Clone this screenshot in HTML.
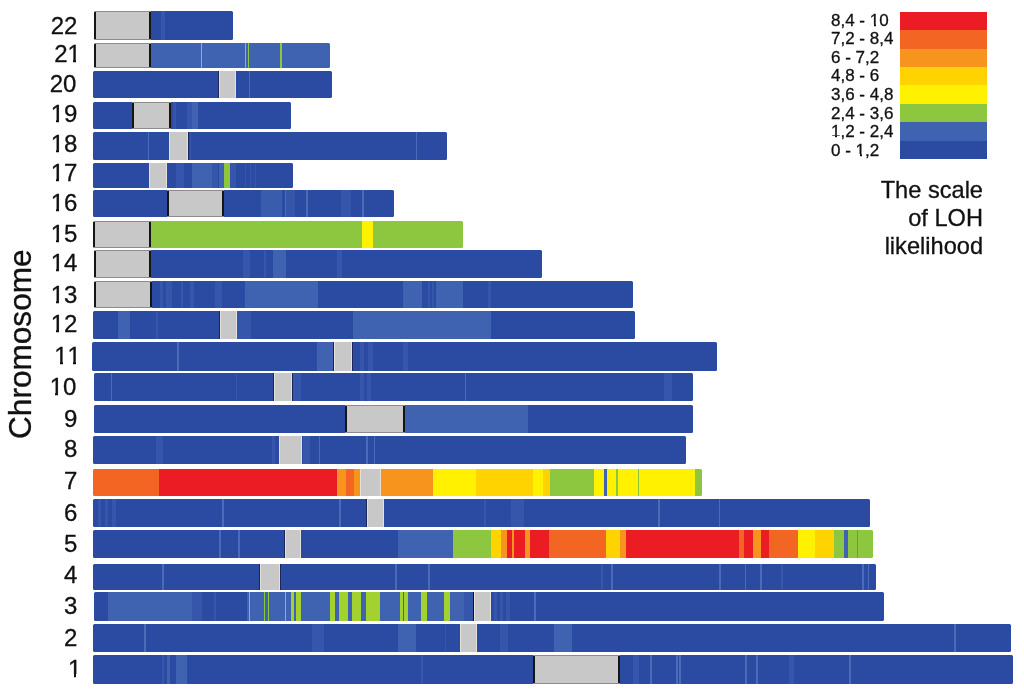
<!DOCTYPE html>
<html><head><meta charset="utf-8"><style>
html,body{margin:0;padding:0;background:#fff;}
body{width:1024px;height:695px;position:relative;overflow:hidden;font-family:"Liberation Sans",sans-serif;color:#111;-webkit-text-stroke:0.3px #111;}
.bar{position:absolute;background:#2b4aa2;border-radius:1.5px;overflow:hidden;}
.bar i{position:absolute;top:0;bottom:0;display:block;box-sizing:border-box;}
.lab{position:absolute;left:20px;width:57.4px;text-align:right;font-size:24px;line-height:1;}
.lt{position:absolute;left:831px;font-size:17px;line-height:1;white-space:nowrap;}
.ttl{position:absolute;right:41px;font-size:23.6px;line-height:1;text-align:right;white-space:nowrap;}
.ylab{position:absolute;left:0;top:0;font-size:31.6px;line-height:1;white-space:nowrap;transform-origin:0 0;}
.one{position:relative;}
.one::before,.one::after{content:'';position:absolute;bottom:0.14em;height:0.175em;background:#fff;}
.one::before{left:0.05em;width:0.19em;}
.one::after{left:0.35em;width:0.19em;}
#w{position:absolute;left:0;top:0;width:1024px;height:695px;filter:blur(0.5px);}
</style></head><body><div id="w">
<div class="bar" style="top:11px;left:94px;width:139px;height:29px;background:linear-gradient(90deg,#c8c8c8 0px 57px,#2b4aa2 57px 67px,#3556aa 67px 71px,#2b4aa2 71px 139px)"><i style="left:0px;width:57px;background:#c8c8c8;border-top:1px solid #8c8c8c;border-bottom:1px solid #8c8c8c;box-shadow:inset 2px 0 0 #151515,inset -2px 0 0 #151515;"></i></div>
<div class="bar" style="top:43px;left:94px;width:236px;height:25px;background:linear-gradient(90deg,#c8c8c8 0px 57px,#3f63b0 57px 107px,#8dc63f 107px 108px,#3f63b0 108px 151px,#8dc63f 151px 152px,#3f63b0 152px 154px,#8dc63f 154px 155px,#3f63b0 155px 186px,#8dc63f 186px 188px,#3f63b0 188px 236px)"><i style="left:0px;width:57px;background:#c8c8c8;border-top:1px solid #8c8c8c;border-bottom:1px solid #8c8c8c;box-shadow:inset 2px 0 0 #151515,inset -2px 0 0 #151515;"></i></div>
<div class="bar" style="top:71px;left:93px;width:239px;height:27px;background:linear-gradient(90deg,#2b4aa2 0px 126px,#c8c8c8 126px 143px,#2b4aa2 143px 156px,#4a6cb8 156px 157px,#2b4aa2 157px 239px)"><i style="left:126px;width:17px;background:#c8c8c8;box-shadow:inset 1px 0 0 #e4e2d8,inset -1px 0 0 #e4e2d8,-1px 0 0 #1c2458;"></i></div>
<div class="bar" style="top:102px;left:93px;width:198px;height:27px;background:linear-gradient(90deg,#2b4aa2 0px 39px,#c8c8c8 39px 78px,#2b4aa2 78px 80px,#3556aa 80px 83px,#2b4aa2 83px 94px,#3556aa 94px 99px,#3f63b0 99px 105px,#2b4aa2 105px 198px)"><i style="left:39px;width:39px;background:#c8c8c8;border-top:1px solid #8c8c8c;border-bottom:1px solid #8c8c8c;box-shadow:inset 2px 0 0 #151515,inset -2px 0 0 #151515;"></i></div>
<div class="bar" style="top:132px;left:93px;width:354px;height:28px;background:linear-gradient(90deg,#2b4aa2 0px 55px,#4a6cb8 55px 56px,#2b4aa2 56px 76px,#c8c8c8 76px 95px,#2b4aa2 95px 97px,#3556aa 97px 98px,#2b4aa2 98px 323px,#4a6cb8 323px 324px,#2b4aa2 324px 354px)"><i style="left:76px;width:19px;background:#c8c8c8;box-shadow:inset 1px 0 0 #e4e2d8,inset -1px 0 0 #e4e2d8,1px 0 0 #1c2458;"></i></div>
<div class="bar" style="top:163px;left:93px;width:200px;height:25px;background:linear-gradient(90deg,#2b4aa2 0px 56px,#c8c8c8 56px 74px,#2b4aa2 74px 83px,#3556aa 83px 91px,#2b4aa2 91px 99px,#3f63b0 99px 119px,#3556aa 119px 125px,#2b4aa2 125px 126px,#3f63b0 126px 131px,#8dc63f 131px 137px,#3556aa 137px 143px,#2b4aa2 143px 152px,#3556aa 152px 153px,#2b4aa2 153px 157px,#3556aa 157px 158px,#2b4aa2 158px 162px,#3556aa 162px 163px,#2b4aa2 163px 200px)"><i style="left:56px;width:18px;background:#c8c8c8;box-shadow:inset 1px 0 0 #e4e2d8,inset -1px 0 0 #e4e2d8;"></i></div>
<div class="bar" style="top:190px;left:93px;width:301px;height:27px;background:linear-gradient(90deg,#2b4aa2 0px 74px,#c8c8c8 74px 131px,#2b4aa2 131px 168px,#3a5cad 168px 189px,#2b4aa2 189px 192px,#4a6cb8 192px 193px,#3556aa 193px 202px,#2b4aa2 202px 213px,#4a6cb8 213px 215px,#2b4aa2 215px 248px,#3556aa 248px 258px,#2b4aa2 258px 269px,#4a6cb8 269px 271px,#2b4aa2 271px 301px)"><i style="left:74px;width:57px;background:#c8c8c8;border-top:1px solid #8c8c8c;border-bottom:1px solid #8c8c8c;box-shadow:inset 2px 0 0 #151515,inset -2px 0 0 #151515;"></i></div>
<div class="bar" style="top:221px;left:93px;width:370px;height:27px;background:linear-gradient(90deg,#c8c8c8 0px 58px,#8dc63f 58px 269px,#fff100 269px 280px,#8dc63f 280px 370px)"><i style="left:0px;width:58px;background:#c8c8c8;border-top:1px solid #8c8c8c;border-bottom:1px solid #8c8c8c;box-shadow:inset 2px 0 0 #151515,inset -2px 0 0 #151515;"></i></div>
<div class="bar" style="top:250px;left:94px;width:448px;height:28px;background:linear-gradient(90deg,#c8c8c8 0px 57px,#2b4aa2 57px 149px,#3556aa 149px 156px,#2b4aa2 156px 170px,#3556aa 170px 172px,#2b4aa2 172px 179px,#3f63b0 179px 192px,#2b4aa2 192px 243px,#3556aa 243px 248px,#2b4aa2 248px 448px)"><i style="left:0px;width:57px;background:#c8c8c8;border-top:1px solid #8c8c8c;border-bottom:1px solid #8c8c8c;box-shadow:inset 2px 0 0 #151515,inset -2px 0 0 #151515;"></i></div>
<div class="bar" style="top:281px;left:94px;width:539px;height:27px;background:linear-gradient(90deg,#c8c8c8 0px 58px,#2b4aa2 58px 66px,#3556aa 66px 69px,#2b4aa2 69px 72px,#3556aa 72px 78px,#2b4aa2 78px 87px,#3556aa 87px 89px,#2b4aa2 89px 96px,#3556aa 96px 100px,#2b4aa2 100px 121px,#3556aa 121px 128px,#2b4aa2 128px 151px,#3f63b0 151px 224px,#2b4aa2 224px 309px,#3f63b0 309px 328px,#2b4aa2 328px 334px,#3556aa 334px 336px,#2b4aa2 336px 338px,#3556aa 338px 340px,#2b4aa2 340px 342px,#3f63b0 342px 369px,#2b4aa2 369px 394px,#3556aa 394px 397px,#2b4aa2 397px 539px)"><i style="left:0px;width:58px;background:#c8c8c8;border-top:1px solid #8c8c8c;border-bottom:1px solid #8c8c8c;box-shadow:inset 2px 0 0 #151515,inset -2px 0 0 #151515;"></i></div>
<div class="bar" style="top:311px;left:93px;width:542px;height:28px;background:linear-gradient(90deg,#2b4aa2 0px 25px,#3f63b0 25px 37px,#2b4aa2 37px 63px,#3556aa 63px 65px,#2b4aa2 65px 127px,#c8c8c8 127px 144px,#3556aa 144px 158px,#2b4aa2 158px 260px,#3f63b0 260px 398px,#2b4aa2 398px 542px)"><i style="left:127px;width:17px;background:#c8c8c8;box-shadow:inset 1px 0 0 #e4e2d8,inset -1px 0 0 #e4e2d8,-1px 0 0 #1c2458;"></i></div>
<div class="bar" style="top:342px;left:92px;width:625px;height:29px;background:linear-gradient(90deg,#2b4aa2 0px 85px,#4a6cb8 85px 87px,#2b4aa2 87px 225px,#3f63b0 225px 242px,#c8c8c8 242px 260px,#2b4aa2 260px 268px,#3556aa 268px 272px,#2b4aa2 272px 276px,#3556aa 276px 281px,#2b4aa2 281px 311px,#3556aa 311px 316px,#2b4aa2 316px 625px)"><i style="left:242px;width:18px;background:#c8c8c8;box-shadow:inset 1px 0 0 #e4e2d8,inset -1px 0 0 #e4e2d8,-1px 0 0 #1c2458,1px 0 0 #1c2458;"></i></div>
<div class="bar" style="top:373px;left:94px;width:599px;height:28px;background:linear-gradient(90deg,#2b4aa2 0px 17px,#4a6cb8 17px 18px,#2b4aa2 18px 142px,#3556aa 142px 143px,#2b4aa2 143px 180px,#c8c8c8 180px 198px,#3556aa 198px 207px,#2b4aa2 207px 266px,#3556aa 266px 270px,#2b4aa2 270px 273px,#3556aa 273px 277px,#2b4aa2 277px 371px,#4a6cb8 371px 372px,#2b4aa2 372px 570px,#3556aa 570px 578px,#2b4aa2 578px 599px)"><i style="left:180px;width:18px;background:#c8c8c8;box-shadow:inset 1px 0 0 #e4e2d8,inset -1px 0 0 #e4e2d8,-1px 0 0 #1c2458,1px 0 0 #1c2458;"></i></div>
<div class="bar" style="top:405px;left:94px;width:599px;height:28px;background:linear-gradient(90deg,#2b4aa2 0px 251px,#c8c8c8 251px 311px,#3f63b0 311px 434px,#2b4aa2 434px 599px)"><i style="left:251px;width:60px;background:#c8c8c8;border-top:1px solid #8c8c8c;border-bottom:1px solid #8c8c8c;box-shadow:inset 2px 0 0 #151515,inset -2px 0 0 #151515;"></i></div>
<div class="bar" style="top:436px;left:93px;width:593px;height:28px;background:linear-gradient(90deg,#2b4aa2 0px 63px,#3556aa 63px 70px,#2b4aa2 70px 179px,#3556aa 179px 182px,#2b4aa2 182px 186px,#c8c8c8 186px 209px,#2b4aa2 209px 210px,#3556aa 210px 217px,#2b4aa2 217px 226px,#4a6cb8 226px 227px,#2b4aa2 227px 273px,#4a6cb8 273px 275px,#2b4aa2 275px 281px,#4a6cb8 281px 282px,#2b4aa2 282px 593px)"><i style="left:186px;width:23px;background:#c8c8c8;box-shadow:inset 1px 0 0 #e4e2d8,inset -1px 0 0 #e4e2d8;"></i></div>
<div class="bar" style="top:469px;left:93px;width:609px;height:27px;background:linear-gradient(90deg,#f26522 0px 66px,#ec1c24 66px 244px,#f7941d 244px 253px,#f26522 253px 261px,#f7941d 261px 267px,#c8c8c8 267px 288px,#f7941d 288px 340px,#fff100 340px 383px,#ffd300 383px 440px,#fff100 440px 450px,#ffd300 450px 457px,#8dc63f 457px 501px,#fff100 501px 511px,#3f63b0 511px 514px,#fff100 514px 523px,#8dc63f 523px 525px,#fff100 525px 545px,#8dc63f 545px 546px,#fff100 546px 602px,#8dc63f 602px 609px)"><i style="left:267px;width:21px;background:#c8c8c8;box-shadow:inset 1px 0 0 #e4e2d8,inset -1px 0 0 #e4e2d8;"></i></div>
<div class="bar" style="top:499px;left:93px;width:777px;height:28px;background:linear-gradient(90deg,#2b4aa2 0px 5px,#3556aa 5px 8px,#2b4aa2 8px 12px,#3556aa 12px 15px,#2b4aa2 15px 19px,#3556aa 19px 23px,#2b4aa2 23px 129px,#4a6cb8 129px 131px,#2b4aa2 131px 246px,#4a6cb8 246px 248px,#2b4aa2 248px 274px,#c8c8c8 274px 291px,#2b4aa2 291px 391px,#3556aa 391px 393px,#2b4aa2 393px 418px,#3556aa 418px 431px,#2b4aa2 431px 565px,#4a6cb8 565px 567px,#2b4aa2 567px 626px,#4a6cb8 626px 627px,#2b4aa2 627px 777px)"><i style="left:274px;width:17px;background:#c8c8c8;box-shadow:inset 1px 0 0 #e4e2d8,inset -1px 0 0 #e4e2d8,-1px 0 0 #1c2458;"></i></div>
<div class="bar" style="top:530px;left:93px;width:780px;height:28px;background:linear-gradient(90deg,#2b4aa2 0px 126px,#4a6cb8 126px 128px,#2b4aa2 128px 145px,#4a6cb8 145px 147px,#2b4aa2 147px 192px,#c8c8c8 192px 208px,#2b4aa2 208px 305px,#3f63b0 305px 360px,#8dc63f 360px 398px,#ffd300 398px 408px,#f7941d 408px 414px,#ec1c24 414px 419px,#f7941d 419px 421px,#ec1c24 421px 432px,#f7941d 432px 437px,#ec1c24 437px 456px,#f26522 456px 513px,#ffd300 513px 527px,#f7941d 527px 533px,#ec1c24 533px 646px,#f26522 646px 651px,#ec1c24 651px 660px,#f7941d 660px 668px,#ec1c24 668px 676px,#f26522 676px 705px,#fff100 705px 722px,#ffd300 722px 741px,#8dc63f 741px 751px,#3f63b0 751px 755px,#8dc63f 755px 764px,#6a9a50 764px 765px,#8dc63f 765px 780px)"><i style="left:192px;width:16px;background:#c8c8c8;box-shadow:inset 1px 0 0 #e4e2d8,inset -1px 0 0 #e4e2d8,-1px 0 0 #1c2458;"></i></div>
<div class="bar" style="top:564px;left:93px;width:783px;height:26px;background:linear-gradient(90deg,#2b4aa2 0px 69px,#4a6cb8 69px 71px,#2b4aa2 71px 167px,#c8c8c8 167px 187px,#2b4aa2 187px 302px,#4a6cb8 302px 304px,#2b4aa2 304px 335px,#4a6cb8 335px 337px,#2b4aa2 337px 508px,#3556aa 508px 510px,#2b4aa2 510px 518px,#4a6cb8 518px 520px,#2b4aa2 520px 626px,#4a6cb8 626px 628px,#2b4aa2 628px 652px,#4a6cb8 652px 653px,#2b4aa2 653px 667px,#4a6cb8 667px 669px,#2b4aa2 669px 688px,#3556aa 688px 690px,#2b4aa2 690px 769px,#4a6cb8 769px 771px,#2b4aa2 771px 775px,#4a6cb8 775px 776px,#2b4aa2 776px 783px)"><i style="left:167px;width:20px;background:#c8c8c8;box-shadow:inset 1px 0 0 #e4e2d8,inset -1px 0 0 #e4e2d8,-1px 0 0 #1c2458,1px 0 0 #1c2458;"></i></div>
<div class="bar" style="top:592px;left:94px;width:790px;height:29px;background:linear-gradient(90deg,#2b4aa2 0px 14px,#3f63b0 14px 98px,#3556aa 98px 108px,#2b4aa2 108px 120px,#3556aa 120px 122px,#2b4aa2 122px 153px,#3f63b0 153px 155px,#8dc63f 155px 156px,#3f63b0 156px 170px,#8dc63f 170px 171px,#3f63b0 171px 174px,#8dc63f 174px 175px,#3f63b0 175px 191px,#8dc63f 191px 192px,#3f63b0 192px 197px,#a3d12f 197px 200px,#3f63b0 200px 202px,#a3d12f 202px 207px,#3f63b0 207px 236px,#a3d12f 236px 241px,#3f63b0 241px 245px,#a3d12f 245px 254px,#3f63b0 254px 258px,#a3d12f 258px 267px,#3f63b0 267px 272px,#a3d12f 272px 286px,#3f63b0 286px 306px,#a3d12f 306px 309px,#3f63b0 309px 310px,#a3d12f 310px 314px,#3f63b0 314px 327px,#a3d12f 327px 333px,#3f63b0 333px 350px,#a3d12f 350px 356px,#3f63b0 356px 370px,#3556aa 370px 380px,#c8c8c8 380px 397px,#2b4aa2 397px 400px,#3556aa 400px 403px,#2b4aa2 403px 406px,#3556aa 406px 409px,#2b4aa2 409px 412px,#3556aa 412px 416px,#2b4aa2 416px 440px,#4a6cb8 440px 442px,#2b4aa2 442px 790px)"><i style="left:380px;width:17px;background:#c8c8c8;box-shadow:inset 1px 0 0 #e4e2d8,inset -1px 0 0 #e4e2d8,-1px 0 0 #151515;"></i></div>
<div class="bar" style="top:624px;left:93px;width:918px;height:28px;background:linear-gradient(90deg,#2b4aa2 0px 51px,#4a6cb8 51px 53px,#2b4aa2 53px 219px,#3556aa 219px 231px,#2b4aa2 231px 305px,#3f63b0 305px 323px,#2b4aa2 323px 352px,#3556aa 352px 353px,#2b4aa2 353px 367px,#c8c8c8 367px 384px,#2b4aa2 384px 407px,#3556aa 407px 415px,#2b4aa2 415px 461px,#3f63b0 461px 479px,#2b4aa2 479px 861px,#4a6cb8 861px 863px,#2b4aa2 863px 918px)"><i style="left:367px;width:17px;background:#c8c8c8;box-shadow:inset 1px 0 0 #e4e2d8,inset -1px 0 0 #e4e2d8;"></i></div>
<div class="bar" style="top:655px;left:93px;width:920px;height:29px;background:linear-gradient(90deg,#2b4aa2 0px 69px,#3556aa 69px 71px,#2b4aa2 71px 74px,#3f63b0 74px 77px,#2b4aa2 77px 83px,#3f63b0 83px 94px,#2b4aa2 94px 328px,#3556aa 328px 330px,#2b4aa2 330px 440px,#c8c8c8 440px 527px,#2b4aa2 527px 540px,#3556aa 540px 546px,#2b4aa2 546px 557px,#4a6cb8 557px 559px,#2b4aa2 559px 583px,#4a6cb8 583px 585px,#2b4aa2 585px 586px,#4a6cb8 586px 588px,#2b4aa2 588px 652px,#4a6cb8 652px 654px,#2b4aa2 654px 663px,#4a6cb8 663px 665px,#2b4aa2 665px 696px,#3556aa 696px 701px,#2b4aa2 701px 756px,#4a6cb8 756px 758px,#2b4aa2 758px 920px)"><i style="left:440px;width:87px;background:#c8c8c8;border-top:1px solid #8c8c8c;border-bottom:1px solid #8c8c8c;box-shadow:inset 2px 0 0 #151515,inset -2px 0 0 #151515;"></i></div>
<div class="lab" style="top:13.58px;left:20px">22</div>
<div class="lab" style="top:42.38px;left:23.5px">2<span class="one">1</span></div>
<div class="lab" style="top:72.18px;left:19px">20</div>
<div class="lab" style="top:102.48px;left:20px"><span class="one">1</span>9</div>
<div class="lab" style="top:132.28px;left:20px"><span class="one">1</span>8</div>
<div class="lab" style="top:161.08px;left:20px"><span class="one">1</span>7</div>
<div class="lab" style="top:190.68px;left:20px"><span class="one">1</span>6</div>
<div class="lab" style="top:222.38px;left:20px"><span class="one">1</span>5</div>
<div class="lab" style="top:250.78px;left:20px"><span class="one">1</span>4</div>
<div class="lab" style="top:282.58px;left:20px"><span class="one">1</span>3</div>
<div class="lab" style="top:312.48px;left:20px"><span class="one">1</span>2</div>
<div class="lab" style="top:343.68px;left:23.5px"><span class="one">1</span><span class="one">1</span></div>
<div class="lab" style="top:375.38px;left:19px"><span class="one">1</span>0</div>
<div class="lab" style="top:406.68px;left:20px">9</div>
<div class="lab" style="top:437.48px;left:20px">8</div>
<div class="lab" style="top:469.28px;left:20px">7</div>
<div class="lab" style="top:501.38px;left:20px">6</div>
<div class="lab" style="top:532.28px;left:20px">5</div>
<div class="lab" style="top:563.18px;left:20px">4</div>
<div class="lab" style="top:594.48px;left:20px">3</div>
<div class="lab" style="top:625.58px;left:20px">2</div>
<div class="lab" style="top:656.58px;left:24px"><span class="one">1</span></div>
<div style="position:absolute;left:900px;width:87.4px;top:11.7px;height:18.74px;background:#ec1c24"></div>
<div style="position:absolute;left:900px;width:87.4px;top:30.14px;height:18.74px;background:#f26522"></div>
<div style="position:absolute;left:900px;width:87.4px;top:48.58px;height:18.74px;background:#f7941d"></div>
<div style="position:absolute;left:900px;width:87.4px;top:67.01px;height:18.74px;background:#ffd300"></div>
<div style="position:absolute;left:900px;width:87.4px;top:85.45px;height:18.74px;background:#fff100"></div>
<div style="position:absolute;left:900px;width:87.4px;top:103.89px;height:18.74px;background:#8dc63f"></div>
<div style="position:absolute;left:900px;width:87.4px;top:122.33px;height:18.74px;background:#3f63b0"></div>
<div style="position:absolute;left:900px;width:87.4px;top:140.76px;height:18.74px;background:#2b4aa2"></div>
<div class="lt" style="top:11.51px">8,4 - <span class="one">1</span>0</div>
<div class="lt" style="top:30.11px">7,2 - 8,4</div>
<div class="lt" style="top:48.71px">6 - 7,2</div>
<div class="lt" style="top:67.31px">4,8 - 6</div>
<div class="lt" style="top:85.91px">3,6 - 4,8</div>
<div class="lt" style="top:104.51px">2,4 - 3,6</div>
<div class="lt" style="top:123.11px"><span class="one">1</span>,2 - 2,4</div>
<div class="lt" style="top:141.71px">0 - <span class="one">1</span>,2</div>
<div class="ttl" style="top:179.02px">The scale</div>
<div class="ttl" style="top:207.02px">of LOH</div>
<div class="ttl" style="top:235.02px">likelihood</div>
<div class="ylab" style="transform:translate(5px,439px) rotate(-90deg)">Chromosome</div>
</div></body></html>
